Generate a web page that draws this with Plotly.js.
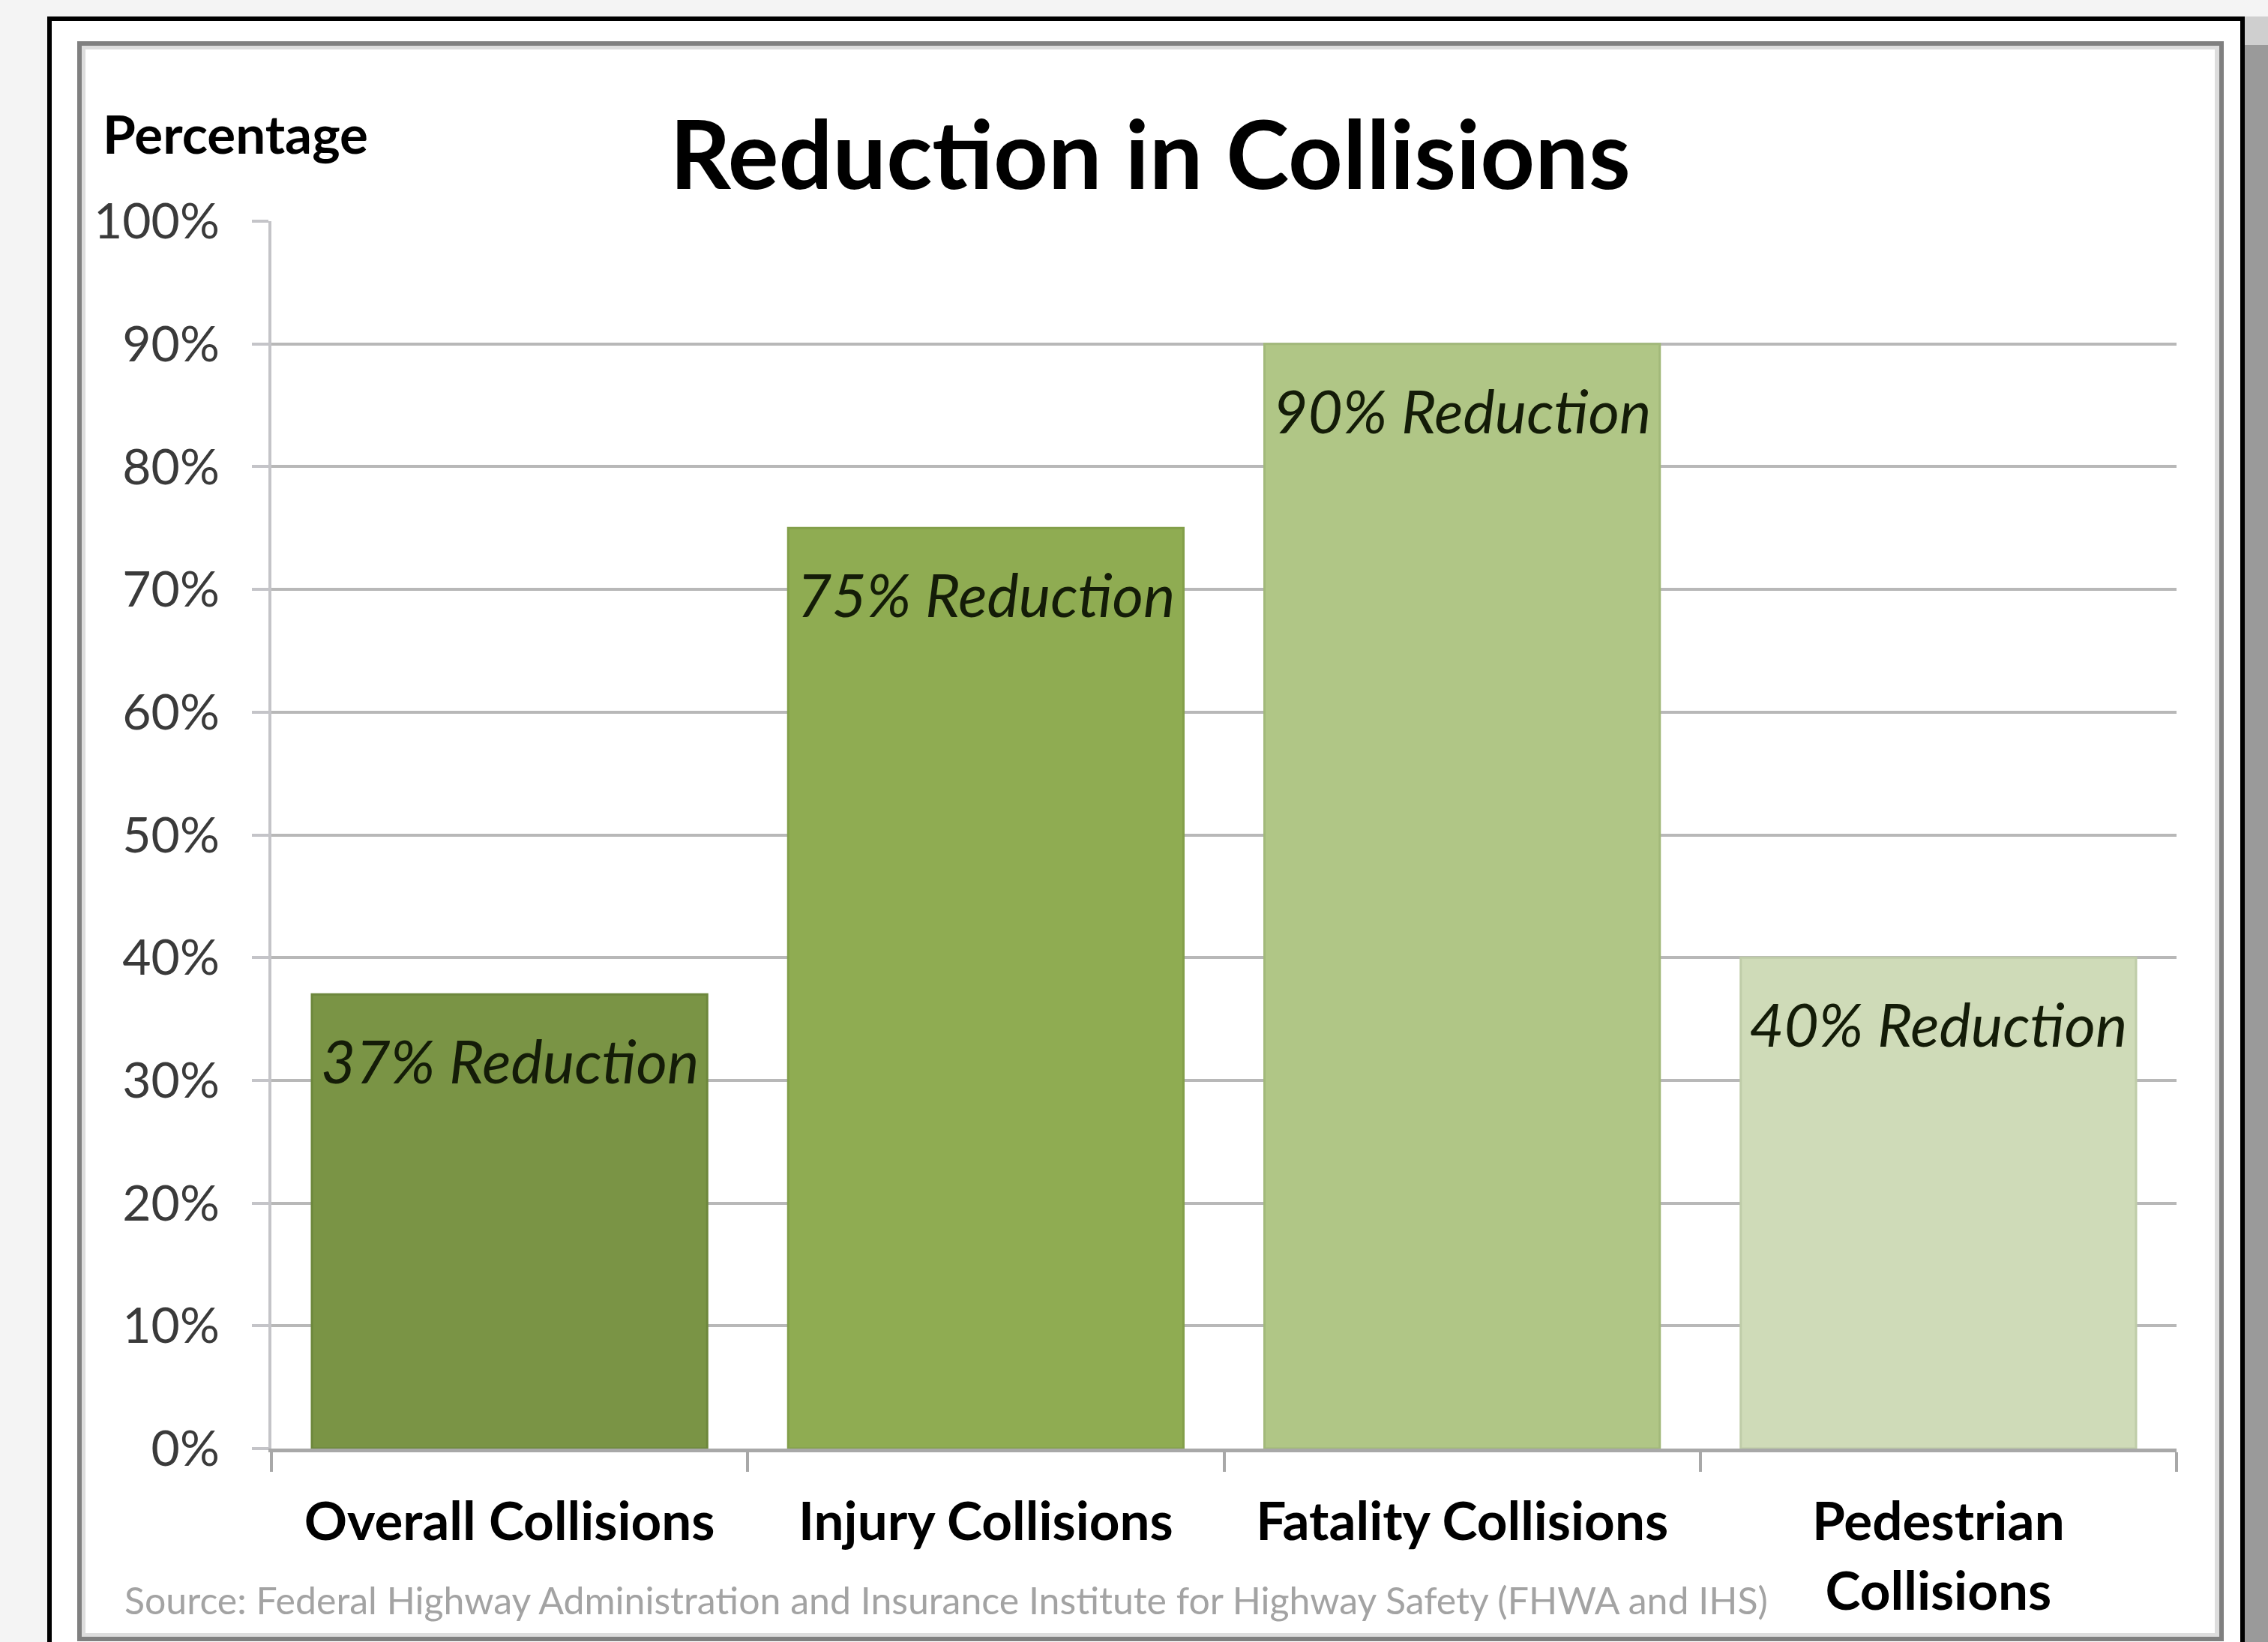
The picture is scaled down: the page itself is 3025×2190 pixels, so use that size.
<!DOCTYPE html>
<html>
<head>
<meta charset="utf-8">
<script src="https://cdn.plot.ly/plotly-3.0.1.min.js"></script>
<style>
  html, body { margin: 0; padding: 0; background: #f4f4f4; }
  #chart { width: 3025px; height: 2190px; }
</style>
</head>
<body>
<div id="chart"></div>
<script>
// ---- data ----
const categories = ['Overall Collisions', 'Injury Collisions', 'Fatality Collisions', 'Pedestrian<br>Collisions'];
const reductions = [37, 75, 90, 40];
const barLabels = ['37% Reduction', '75% Reduction', '90% Reduction', '40% Reduction'];
const yTickValues = [0, 10, 20, 30, 40, 50, 60, 70, 80, 90, 100];
const yTickLabels = ['0%', '10%', '20%', '30%', '40%', '50%', '60%', '70%', '80%', '90%', '100%'];
const chartTitle = 'Reduction in Collisions';
const yLabel = 'Percentage';
const sourceText = 'Source: Federal Highway Administration and Insurance Institute for Highway Safety (FHWA and IHS)';

// ---- styles ----
const barFills = ['#7a9445', '#8fac52', '#b0c686', '#cfdbb8'];
const barLines = ['#6d873c', '#839f4a', '#a2b97a', '#bfcca8'];

const W = 3025, H = 2190;
const L = 362, R = 2903, T = 295, B = 1932;
const pw = R - L, ph = B - T;
const px = x => (x - L) / pw;
const py = y => (B - y) / ph;

const trace = {
  type: 'bar',
  x: categories,
  y: reductions,
  marker: { color: barFills, line: { color: barLines, width: 3 } },
  hoverinfo: 'skip'
};

const annotations = categories.map((c, i) => ({
  x: c, y: reductions[i], xref: 'x', yref: 'y',
  text: barLabels[i], showarrow: false,
  xanchor: 'center', yanchor: 'middle', yshift: -88,
  font: { family: 'Lato', size: 80, style: 'italic', color: '#141c08' }
}));
annotations.push({
  xref: 'paper', yref: 'paper', x: px(135), y: py(177),
  xanchor: 'left', yanchor: 'middle', text: yLabel, showarrow: false,
  font: { family: 'Lato', size: 71, weight: 700, color: '#000' }
});
annotations.push({
  xref: 'paper', yref: 'paper', x: px(164), y: py(2134),
  xanchor: 'left', yanchor: 'middle', text: sourceText, showarrow: false,
  font: { family: 'Lato', size: 50, color: '#a3a3a3' }
});

const shapes = [
  // right drop shadow
  { type: 'rect', xref: 'paper', yref: 'paper', layer: 'below',
    x0: px(2994), x1: px(3030), y0: py(60), y1: py(2200),
    fillcolor: '#9a9a9a', line: { width: 0 } },
  { type: 'rect', xref: 'paper', yref: 'paper', layer: 'below',
    x0: px(2994), x1: px(3030), y0: py(22), y1: py(60),
    fillcolor: '#cfcfcf', line: { width: 0 } },
  // outer black frame
  { type: 'rect', xref: 'paper', yref: 'paper', layer: 'below',
    x0: px(66), x1: px(2991), y0: py(25), y1: py(2215),
    fillcolor: '#ffffff', line: { color: '#000000', width: 6 } },
  // inner gray frame (light inner line + darker outer line)
  { type: 'rect', xref: 'paper', yref: 'paper', layer: 'below',
    x0: px(111), x1: px(2957), y0: py(63), y1: py(2181),
    fillcolor: 'rgba(0,0,0,0)', line: { color: '#dddddd', width: 6 } },
  { type: 'rect', xref: 'paper', yref: 'paper', layer: 'below',
    x0: px(106), x1: px(2963), y0: py(58), y1: py(2186),
    fillcolor: 'rgba(0,0,0,0)', line: { color: '#808080', width: 6 } }
];

const layout = {
  width: W, height: H,
  margin: { l: L, r: W - R, t: T, b: H - B, pad: 0 },
  paper_bgcolor: '#f4f4f4',
  plot_bgcolor: '#ffffff',
  showlegend: false,
  bargap: 0.17,
  title: {
    text: chartTitle,
    xref: 'container', yref: 'container',
    x: 1534 / W, y: 1 - 208 / H, xanchor: 'center', yanchor: 'middle',
    font: { family: 'Lato', size: 127, weight: 700, color: '#000000' }
  },
  xaxis: {
    type: 'category',
    automargin: false,
    showline: true, linecolor: '#a8a8a8', linewidth: 5,
    showgrid: false, zeroline: false,
    ticks: 'outside', tickson: 'boundaries', ticklen: 26, tickwidth: 4, tickcolor: '#a8a8a8',
    tickfont: { family: 'Lato', size: 71, weight: 700, color: '#000000' },
    ticklabelstandoff: 32
  },
  yaxis: {
    range: [0, 100],
    automargin: false,
    tickvals: yTickValues, ticktext: yTickLabels,
    showline: true, linecolor: '#c4c4c8', linewidth: 4,
    showgrid: true, gridcolor: '#b8b8b8', gridwidth: 4,
    zeroline: false,
    ticks: 'outside', ticklen: 22, tickwidth: 4, tickcolor: '#c4c4c8',
    tickfont: { family: 'Lato', size: 66, color: '#3a3a3a' },
    ticklabelstandoff: 30
  },
  annotations: annotations,
  shapes: shapes
};

Plotly.newPlot('chart', [trace], layout, { staticPlot: true, displayModeBar: false });
</script>
</body>
</html>
